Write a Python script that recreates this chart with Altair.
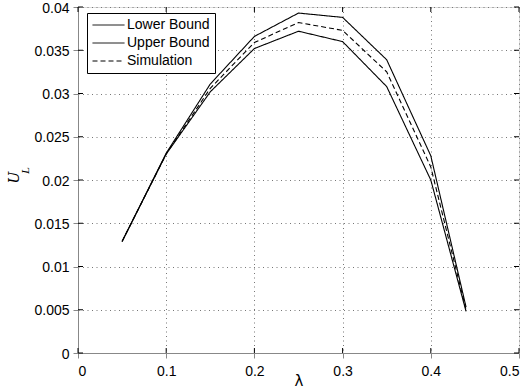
import altair as alt
import pandas as pd

lam = [0.05, 0.1, 0.15, 0.2, 0.25, 0.3, 0.35, 0.4, 0.44]
lower = [0.0129, 0.0230, 0.0302, 0.0352, 0.0372, 0.0360, 0.0308, 0.0200, 0.0048]
upper = [0.0129, 0.0231, 0.0311, 0.0366, 0.0393, 0.0388, 0.0339, 0.0228, 0.0053]
sim = [0.0129, 0.0230, 0.0306, 0.0359, 0.0382, 0.0373, 0.0325, 0.0215, 0.0050]
series_names = ["Lower Bound", "Upper Bound", "Simulation"]
x_ticks = [0, 0.1, 0.2, 0.3, 0.4, 0.5]
y_ticks = [0, 0.005, 0.01, 0.015, 0.02, 0.025, 0.03, 0.035, 0.04]

W, H = 441, 346
FONT = "Liberation Sans"

rows = []
for name, vals in zip(series_names, [lower, upper, sim]):
    for xv, yv in zip(lam, vals):
        rows.append({"lam": xv, "U": yv, "series": name})
df = pd.DataFrame(rows)

xs = alt.Scale(domain=[0, 0.5], nice=False, zero=False)
ys = alt.Scale(domain=[0, 0.04], nice=False, zero=False)

leg = dict(title=None, orient="none", legendX=9, legendY=6,
           symbolType="stroke", symbolSize=1024, clipHeight=14,
           symbolStrokeWidth=1, symbolStrokeColor="black", labelFontSize=14,
           labelFont=FONT, labelColor="black", rowPadding=4, padding=5,
           strokeColor="black", fillColor="white", labelOffset=2)

lines = alt.Chart(df).mark_line(strokeWidth=1.1, clip=True).encode(
    x=alt.X("lam:Q", scale=xs, title="λ",
            axis=alt.Axis(values=x_ticks, format="~g", grid=True, labelFontSize=14,
                          labelPadding=6, titleFontSize=15, titleY=27,
                          titleBaseline="middle",
                          titleFont="DejaVu Sans", titleFontWeight="normal",
                          gridDash=[1, 3.5], gridColor="#777")),
    y=alt.Y("U:Q", scale=ys, title="",
            axis=alt.Axis(values=y_ticks, format="~g", grid=True, labelFontSize=14,
                          labelPadding=4, labelOffset=1,
                          gridDash=[1, 3.5], gridColor="#777")),
    color=alt.Color("series:N", scale=alt.Scale(domain=series_names,
                                                range=["black", "black", "black"]),
                    legend=alt.Legend(**leg)),
    strokeDash=alt.StrokeDash("series:N",
                              scale=alt.Scale(domain=series_names,
                                              range=[[1, 0], [1, 0], [5, 3]]),
                              legend=alt.Legend(**leg)),
)

xt = pd.DataFrame({"v": x_ticks})
yt = pd.DataFrame({"v": y_ticks})
tick_bot = alt.Chart(xt).mark_rule(color="black", strokeWidth=1).encode(
    x=alt.X("v:Q", scale=xs), y=alt.value(H), y2=alt.value(H - 5))
tick_top = alt.Chart(xt).mark_rule(color="black", strokeWidth=1).encode(
    x=alt.X("v:Q", scale=xs), y=alt.value(0), y2=alt.value(5))
tick_left = alt.Chart(yt).mark_rule(color="black", strokeWidth=1).encode(
    y=alt.Y("v:Q", scale=ys), x=alt.value(0), x2=alt.value(5))
tick_right = alt.Chart(yt).mark_rule(color="black", strokeWidth=1).encode(
    y=alt.Y("v:Q", scale=ys), x=alt.value(W), x2=alt.value(W - 5))

ylab_u = alt.Chart(pd.DataFrame({"t": ["U"]})).mark_text(
    angle=270, font="DejaVu Serif", fontStyle="italic", fontSize=14, color="black",
    baseline="middle"
).encode(text="t:N", x=alt.value(-63), y=alt.value(170.5))
ylab_l = alt.Chart(pd.DataFrame({"t": ["L"]})).mark_text(
    angle=270, font="DejaVu Serif", fontStyle="italic", fontSize=10, color="black",
    baseline="middle"
).encode(text="t:N", x=alt.value(-52.5), y=alt.value(163.5))

chart = alt.layer(lines, tick_bot, tick_top, tick_left, tick_right, ylab_u, ylab_l).resolve_scale(
    x="shared", y="shared"
).properties(
    width=W, height=H,
    autosize=alt.AutoSizeParams(type="none"),
    padding={"left": 78, "top": 7, "right": 11, "bottom": 37},
).configure_view(
    stroke="black", strokeWidth=1
).configure_axis(
    domain=False, tickSize=0, gridColor="#777", gridDash=[1, 3.5], gridWidth=1,
    labelFont=FONT, titleFont=FONT, labelColor="black", titleColor="black",
).configure(background="white")

chart.save("out.html", embed_options={"renderer": "svg", "actions": False})
